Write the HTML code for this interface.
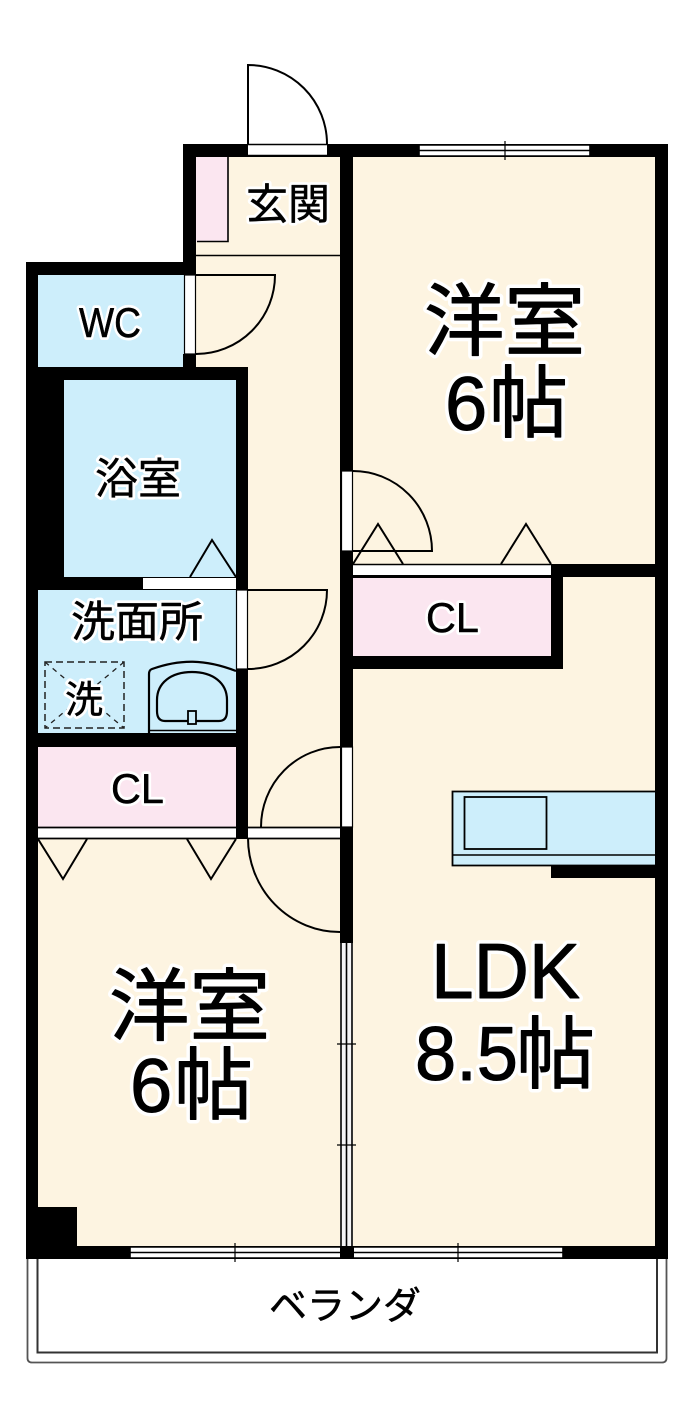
<!DOCTYPE html>
<html lang="ja">
<head>
<meta charset="utf-8">
<title>間取り図</title>
<style>
html,body{margin:0;padding:0;background:#fff;width:700px;height:1424px;overflow:hidden}
svg{display:block}
text{font-family:"Liberation Sans","Noto Sans CJK JP",sans-serif;fill:#000;stroke-linejoin:round}
.j{font-family:"Noto Sans CJK JP","Liberation Sans",sans-serif}
.h text{stroke:#fff}
.h .s{stroke-width:6}
.h .m{stroke-width:8}
.b text{stroke:#000}
.b .s{stroke-width:.5}
.b .m{stroke-width:1}
.l{fill:none;stroke:#000;stroke-width:2}
</style>
</head>
<body>
<svg width="700" height="1424" viewBox="0 0 700 1424" xmlns="http://www.w3.org/2000/svg">
<rect width="700" height="1424" fill="#fff"/>

<!-- floors -->
<g fill="#fdf4e1">
<rect x="196" y="157" width="144" height="98"/>
<rect x="196" y="255" width="144" height="112"/>
<rect x="248" y="367" width="92" height="465"/>
<rect x="353" y="157" width="302" height="408"/>
<rect x="353" y="669" width="302" height="577"/>
<rect x="563" y="577" width="92" height="92"/>
<rect x="38" y="838" width="302" height="408"/>
</g>
<g fill="#cdeefb">
<rect x="38" y="275" width="146" height="92"/>
<rect x="64" y="380" width="172" height="197"/>
<rect x="38" y="590" width="198" height="143"/>
</g>
<g fill="#fbe6f0">
<rect x="196" y="157" width="32" height="85"/>
<rect x="38" y="747" width="198" height="80"/>
<rect x="353" y="578" width="198" height="78"/>
</g>

<!-- walls -->
<g fill="#000">
<rect x="183" y="144" width="485" height="13"/>
<rect x="183" y="144" width="13" height="131"/>
<rect x="340" y="144" width="13" height="799"/>
<rect x="655" y="144" width="13" height="1115"/>
<rect x="26" y="262" width="170" height="13"/>
<rect x="26" y="262" width="12" height="997"/>
<rect x="183" y="354" width="13" height="20"/>
<rect x="26" y="367" width="222" height="13"/>
<rect x="26" y="367" width="38" height="223"/>
<rect x="236" y="367" width="12" height="223"/>
<rect x="26" y="577" width="222" height="13"/>
<rect x="236" y="669" width="12" height="170"/>
<rect x="26" y="733" width="222" height="14"/>
<rect x="551" y="564" width="117" height="13"/>
<rect x="551" y="564" width="12" height="105"/>
<rect x="340" y="656" width="223" height="13"/>
<rect x="551" y="866" width="104" height="12"/>
<rect x="26" y="1207" width="51" height="52"/>
<rect x="26" y="1246" width="642" height="13"/>
</g>

<!-- top closet outline, entry line -->
<path d="M197 241.500H228V157" fill="none" stroke="#000" stroke-width="1.600"/>
<path d="M196 255.500H340" fill="none" stroke="#000" stroke-width="1.500"/>

<!-- entrance door -->
<rect x="248" y="145" width="79" height="10" fill="#fff"/>
<path class="l" d="M248 144V65A79 79 0 0 1 327 144"/>
<path d="M248 144.500H327M248 155.500H327" stroke="#000" stroke-width="1.500" fill="none"/>

<!-- wc door -->
<rect x="184.500" y="275" width="11" height="79" fill="#fff" stroke="#000" stroke-width="1.200"/>
<path class="l" d="M196 275H275A79 79 0 0 1 196 354"/>

<!-- washroom door -->
<rect x="236.500" y="590" width="11" height="79" fill="#fff" stroke="#000" stroke-width="1.200"/>
<path class="l" d="M248 590H327A79 79 0 0 1 248 669"/>

<!-- bath door -->
<rect x="143" y="578" width="93" height="11" fill="#fff"/>
<path d="M190 577L212 540L236 577" fill="none" stroke="#000" stroke-width="2"/>

<!-- upper room door -->
<rect x="341.500" y="471" width="11" height="80" fill="#fff" stroke="#000" stroke-width="1.200"/>
<path class="l" d="M353 471A79 80 0 0 1 432 551H353"/>
<path d="M353 564L378 524L403 564M501 564L526 524L551 564" fill="none" stroke="#000" stroke-width="2"/>
<rect x="353" y="565" width="198" height="11" fill="#fff"/>
<path d="M353 564.500H551" stroke="#000" stroke-width="1.500"/>
<rect x="353" y="575" width="198" height="3" fill="#000"/>

<!-- hall door -->
<rect x="341.500" y="747" width="11" height="80" fill="#fff" stroke="#000" stroke-width="1.200"/>
<path class="l" d="M340 747A79 80 0 0 0 261 827"/>

<!-- closet strip lower -->
<rect x="38" y="828" width="198" height="10" fill="#fff"/>
<rect x="248" y="828" width="92" height="10" fill="#fff"/>
<path d="M38 827.500H236M248 827.500H340M38 838.500H236M248 838.500H340" stroke="#000" stroke-width="1.800"/>
<path d="M38 839L63 879L87 839M187 839L211 879L236 839" fill="none" stroke="#000" stroke-width="2"/>

<!-- lower room door -->
<path class="l" d="M248 838A92 94 0 0 0 340 932"/>

<!-- kitchen -->
<rect x="452" y="791" width="203" height="75" fill="#cdeefb"/>
<path d="M655 791.500H452.500V865.500H655" fill="none" stroke="#000" stroke-width="1.800"/>
<path d="M453 855H655" stroke="#000" stroke-width="1.500"/>
<rect x="464.500" y="797" width="82" height="52" fill="none" stroke="#000" stroke-width="1.800"/>

<!-- washing machine pan -->
<rect x="45" y="662" width="79" height="66" fill="none" stroke="#222" stroke-width="1.500" stroke-dasharray="7 4"/>
<path d="M45 662L124 728M124 662L45 728" fill="none" stroke="#222" stroke-width="1.300" stroke-dasharray="5 5"/>

<!-- basin -->
<path d="M236 671C205 659 180 659 152 669Q149 670 149 674V733" fill="none" stroke="#000" stroke-width="2.200"/>
<path d="M149 730.500H236" stroke="#000" stroke-width="1.500"/>
<path d="M165 721C159 721 157 717 157 711V700C157 683 171 672 192 672C213 672 227 683 227 700V711C227 717 225 721 219 721Z" fill="none" stroke="#000" stroke-width="2.200"/>
<rect x="188" y="711" width="8" height="13" fill="#cdeefb" stroke="#000" stroke-width="1.800"/>

<!-- windows -->
<g>
<rect x="419" y="145" width="171" height="11" fill="#fff"/>
<path d="M419 145H590M419 150.500H590M419 156H590M419 145V156M590 145V156" stroke="#000" stroke-width="1.600" fill="none"/>
<path d="M505 141V160" stroke="#000" stroke-width="1.200"/>

<rect x="130" y="1247" width="210" height="11" fill="#fff"/>
<path d="M130 1247H340M130 1252.500H340M130 1258H340M130 1247V1258" stroke="#000" stroke-width="1.600" fill="none"/>
<path d="M235 1243V1262" stroke="#000" stroke-width="1.200"/>

<rect x="354" y="1247" width="209" height="11" fill="#fff"/>
<path d="M354 1247H563M354 1252.500H563M354 1258H563M563 1247V1258" stroke="#000" stroke-width="1.600" fill="none"/>
<path d="M458 1243V1262" stroke="#000" stroke-width="1.200"/>

<rect x="341" y="943" width="11" height="303" fill="#f4f4f6"/>
<path d="M341 943V1246M346.500 943V1246M352 943V1246" stroke="#000" stroke-width="1.600" fill="none"/>
<path d="M337 1044H356M337 1145H356" stroke="#000" stroke-width="1.200"/>
</g>

<!-- veranda -->
<path d="M37.500 1259V1352.500H657V1259" fill="none" stroke="#333" stroke-width="2"/>
<path d="M27.500 1259V1358Q27.500 1362.500 32 1362.500H662Q666.500 1362.500 666.500 1358V1259" fill="none" stroke="#555" stroke-width="1.800"/>

<!-- label halos -->
<g class="h" aria-hidden="true">
<text class="s j" x="246" y="219" font-size="42" textLength="84" lengthAdjust="spacingAndGlyphs">玄関</text>
<text class="s" x="79" y="337" font-size="42" textLength="62" lengthAdjust="spacingAndGlyphs">WC</text>
<text class="s j" x="95" y="494" font-size="43" textLength="86" lengthAdjust="spacingAndGlyphs">浴室</text>
<text class="s j" x="71" y="637" font-size="43" textLength="132" lengthAdjust="spacingAndGlyphs">洗面所</text>
<text class="s j" x="65" y="713" font-size="38">洗</text>
<text class="s" x="111" y="803" font-size="42" textLength="53" lengthAdjust="spacingAndGlyphs">CL</text>
<text class="s" x="426" y="632" font-size="42" textLength="53" lengthAdjust="spacingAndGlyphs">CL</text>
<text class="m j" x="424" y="349" font-size="79" textLength="161" lengthAdjust="spacingAndGlyphs">洋室</text>
<text class="m" x="445" y="430" font-size="76">6</text>
<text class="m j" x="489" y="431" font-size="79">帖</text>
<text class="m j" x="109" y="1034" font-size="79" textLength="161" lengthAdjust="spacingAndGlyphs">洋室</text>
<text class="m" x="130" y="1112" font-size="76">6</text>
<text class="m j" x="174" y="1113" font-size="79">帖</text>
<text class="m" x="431" y="998" font-size="78" textLength="149" lengthAdjust="spacingAndGlyphs">LDK</text>
<text class="m" x="415" y="1080" font-size="76" textLength="103" lengthAdjust="spacingAndGlyphs">8.5</text>
<text class="m j" x="516" y="1082" font-size="79">帖</text>
</g>

<!-- labels -->
<g class="b">
<text class="s j" x="246" y="219" font-size="42" textLength="84" lengthAdjust="spacingAndGlyphs">玄関</text>
<text class="s" x="79" y="337" font-size="42" textLength="62" lengthAdjust="spacingAndGlyphs">WC</text>
<text class="s j" x="95" y="494" font-size="43" textLength="86" lengthAdjust="spacingAndGlyphs">浴室</text>
<text class="s j" x="71" y="637" font-size="43" textLength="132" lengthAdjust="spacingAndGlyphs">洗面所</text>
<text class="s j" x="65" y="713" font-size="38">洗</text>
<text class="s" x="111" y="803" font-size="42" textLength="53" lengthAdjust="spacingAndGlyphs">CL</text>
<text class="s" x="426" y="632" font-size="42" textLength="53" lengthAdjust="spacingAndGlyphs">CL</text>
<text class="m j" x="424" y="349" font-size="79" textLength="161" lengthAdjust="spacingAndGlyphs">洋室</text>
<text class="m" x="445" y="430" font-size="76">6</text>
<text class="m j" x="489" y="431" font-size="79">帖</text>
<text class="m j" x="109" y="1034" font-size="79" textLength="161" lengthAdjust="spacingAndGlyphs">洋室</text>
<text class="m" x="130" y="1112" font-size="76">6</text>
<text class="m j" x="174" y="1113" font-size="79">帖</text>
<text class="m" x="431" y="998" font-size="78" textLength="149" lengthAdjust="spacingAndGlyphs">LDK</text>
<text class="m" x="415" y="1080" font-size="76" textLength="103" lengthAdjust="spacingAndGlyphs">8.5</text>
<text class="m j" x="516" y="1082" font-size="79">帖</text>
<text class="s j" x="269" y="1319" font-size="38" textLength="152" lengthAdjust="spacingAndGlyphs">ベランダ</text>
</g>
</svg>
</body>
</html>
